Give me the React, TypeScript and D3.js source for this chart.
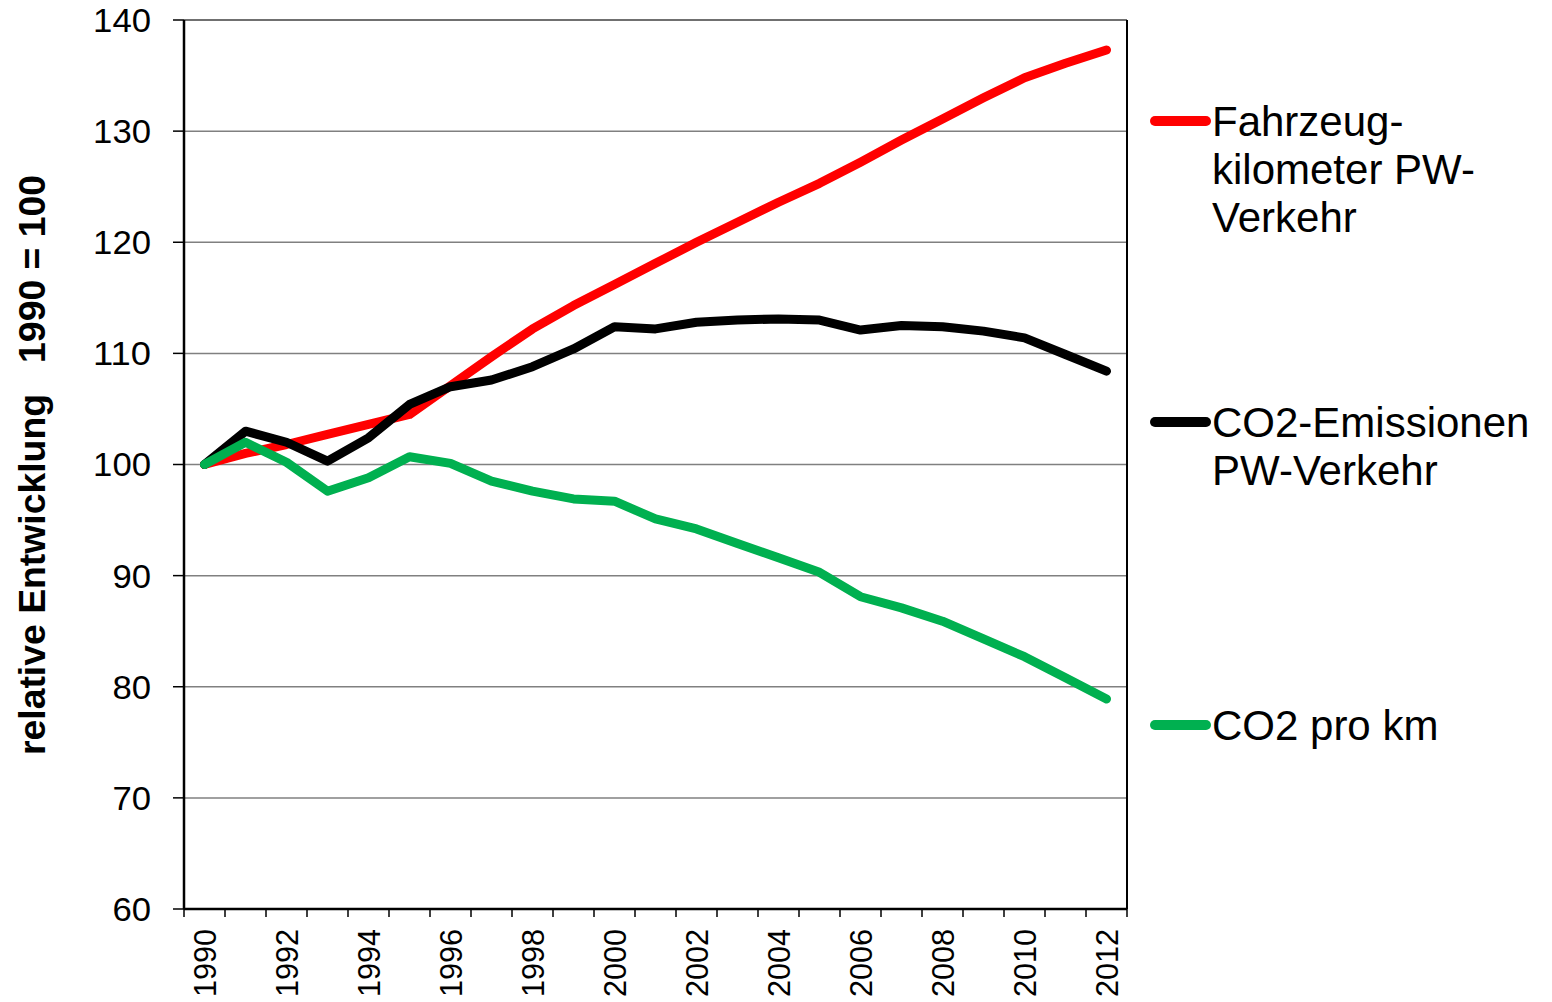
import React from "react";
import * as d3 from "d3";

const years = [1990,1991,1992,1993,1994,1995,1996,1997,1998,1999,2000,2001,2002,2003,2004,2005,2006,2007,2008,2009,2010,2011,2012];
const fahrzeugkm = [100,101.0,101.8,102.7,103.6,104.5,107.1,109.7,112.2,114.3,116.2,118.1,120.0,121.8,123.6,125.3,127.2,129.2,131.1,133.0,134.8,136.1,137.3];
const co2Emissionen = [100,103.0,102.0,100.3,102.4,105.4,107.0,107.6,108.8,110.4,112.4,112.2,112.8,113.0,113.1,113.0,112.1,112.5,112.4,112.0,111.4,109.9,108.4];
const co2ProKm = [100,102.0,100.2,97.6,98.8,100.7,100.1,98.5,97.6,96.9,96.7,95.1,94.2,92.9,91.6,90.3,88.1,87.1,85.9,84.3,82.7,80.8,78.9];
const yTicks = [60,70,80,90,100,110,120,130,140];
const xLabelYears = [1990,1992,1994,1996,1998,2000,2002,2004,2006,2008,2010,2012];
const seriesNames = [["Fahrzeug-", "kilometer PW-", "Verkehr"], ["CO2-Emissionen", "PW-Verkehr"], ["CO2 pro km"]];
const seriesColors = ["#FF0000", "#000000", "#00B050"];
const yTitle = "relative Entwicklung   1990 = 100";

const FONT = "'Liberation Sans', Arial, sans-serif";

export default function App() {
  const W = 1552, H = 1002;
  const left = 184, right = 1127, top = 20, bottom = 909;
  const x = d3.scaleBand<number>().domain(years).range([left, right]).padding(0);
  const y = d3.scaleLinear().domain([60, 140]).range([bottom, top]);
  const cx = (yr: number) => (x(yr) as number) + x.bandwidth() / 2;
  const line = d3.line<number>().x((_, i) => cx(years[i])).y((v) => y(v));
  const series = [fahrzeugkm, co2Emissionen, co2ProKm];
  const boundaries = d3.range(years.length + 1).map((i) => left + i * x.bandwidth());
  const legendY = [121, 422, 725];

  return (
    <svg width={W} height={H} style={{ position: "absolute", left: 0, top: 0, background: "#fff" }} fontFamily={FONT}>
      <rect x={0} y={0} width={W} height={H} fill="#fff" />
      {yTicks.map((t) => (
        <g key={t}>
          {t !== 60 && t !== 140 && (
            <line x1={left} x2={right} y1={y(t)} y2={y(t)} stroke="#808080" strokeWidth={1.5} />
          )}
          <line x1={left - 11} x2={left} y1={y(t)} y2={y(t)} stroke="#000" strokeWidth={1.5} />
          <text x={151} y={y(t)} dy="0.36em" textAnchor="end" fontSize={33} fill="#000"
            textLength={String(t).length * 19.3} lengthAdjust="spacingAndGlyphs">{t}</text>
        </g>
      ))}
      <line x1={left} x2={right} y1={top} y2={top} stroke="#404040" strokeWidth={1.5} />
      <line x1={right} x2={right} y1={top} y2={bottom} stroke="#000" strokeWidth={2} />
      <line x1={left} x2={left} y1={top} y2={bottom} stroke="#000" strokeWidth={2.5} />
      <line x1={left} x2={right} y1={bottom} y2={bottom} stroke="#000" strokeWidth={2.5} />
      {boundaries.map((bx, i) => (
        <line key={i} x1={bx} x2={bx} y1={bottom} y2={bottom + 8} stroke="#000" strokeWidth={1.5} />
      ))}
      {xLabelYears.map((yr) => (
        <text key={yr} transform={`translate(${cx(yr)},${929}) rotate(-90)`} dy="0.36em" textAnchor="end" fontSize={31} fill="#000"
          textLength={68} lengthAdjust="spacingAndGlyphs">{yr}</text>
      ))}
      {series.map((s, i) => (
        <path key={i} d={line(s) as string} fill="none" stroke={seriesColors[i]} strokeWidth={9} strokeLinejoin="round" strokeLinecap="round" />
      ))}
      {seriesNames.map((lines, i) => (
        <g key={i}>
          <line x1={1155} x2={1206} y1={legendY[i]} y2={legendY[i]} stroke={seriesColors[i]} strokeWidth={10} strokeLinecap="round" />
          <text x={1212} y={legendY[i] + 15} fontSize={42} fill="#000">
            {lines.map((l, j) => (
              <tspan key={j} x={1212} dy={j === 0 ? 0 : 48}>{l}</tspan>
            ))}
          </text>
        </g>
      ))}
      <text transform={`translate(45,465) rotate(-90)`} textAnchor="middle" fontSize={36} fontWeight="bold" fill="#000"
        textLength={580} lengthAdjust="spacingAndGlyphs" style={{ whiteSpace: "pre" }}>{yTitle}</text>
    </svg>
  );
}
